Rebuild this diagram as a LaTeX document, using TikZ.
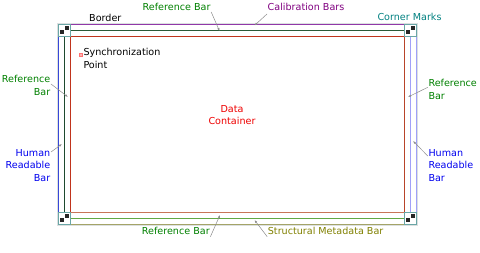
\documentclass[tikz,border=0pt]{standalone}
\usepackage{fontspec}
\setmainfont{DejaVu Sans}
\usetikzlibrary{arrows.meta}
\definecolor{tgreen}{HTML}{008000}
\definecolor{tblue}{HTML}{0000EE}
\definecolor{tpurple}{HTML}{800080}
\definecolor{tteal}{HTML}{008080}
\definecolor{tolive}{HTML}{808000}
\definecolor{tred}{HTML}{EE0000}
\definecolor{calline}{HTML}{9038A8}
\definecolor{topref}{HTML}{2A5A38}
\definecolor{leftblue}{HTML}{3848D8}
\definecolor{leftref}{HTML}{1E4A2E}
\definecolor{rightref}{HTML}{3A7684}
\definecolor{rightlav}{HTML}{A0A0F8}
\definecolor{botref}{HTML}{62A844}
\definecolor{botolive}{HTML}{A4A468}
\definecolor{redA}{HTML}{C0341C}
\definecolor{redB}{HTML}{B8442A}
\definecolor{redC}{HTML}{C87658}
\definecolor{cornerline}{HTML}{6AA6A6}
\definecolor{leader}{HTML}{8C8C8C}
\definecolor{bordergray}{HTML}{DCE0E0}
\tikzset{
  lbl/.style={inner sep=0pt, font=\fontsize{9.6}{12.7}\selectfont},
  barline/.style={line width=1pt},
  leaderline/.style={draw=leader, line width=0.5pt, -{Latex[length=3pt,width=2.2pt]}},
  cornerbox/.style={draw=cornerline, line width=1pt, fill=white},
  blackmark/.style={fill=black!85, draw=none}
}
\begin{document}
\begin{tikzpicture}[x=1pt,y=-1pt]
\useasboundingbox (0,0) rectangle (480,253);
\begin{scope}[shift={(0.5,0.5)}]
% outer border
\draw[bordergray, line width=1pt] (57,23) rectangle (417,225);
% top bars
\draw[barline, calline] (70,24) rectangle (404,30);
\draw[barline, topref] (70,30) rectangle (404,36);
% left bars
\draw[barline, leftblue] (58,36) rectangle (64,212);
\draw[barline, leftref] (64,36) rectangle (70,212);
% right bars
\draw[barline, rightref] (404,36) rectangle (410,212);
\draw[barline, rightlav] (410,36) rectangle (416,212);
% bottom bars
\draw[barline, botolive] (70,218) rectangle (404,224);
\draw[barline, botref] (70,212) rectangle (404,218);
% data container
\draw[barline, redA] (70,212) -- (70,36) -- (404,36);
\draw[barline, redB] (404,36) -- (404,212);
\draw[barline, redC] (70,212) -- (404,212);
% corner marks
\foreach \cx/\cy in {58/24, 404/24, 58/212, 404/212}{
  \draw[cornerbox] (\cx,\cy) rectangle ++(12,12);
  \fill[blackmark] (\cx+1.5,\cy+5.5) rectangle ++(4,4);
  \fill[blackmark] (\cx+6.5,\cy+1.5) rectangle ++(4,4);
}
% synchronization point marker
\draw[fill=red!30, draw=red!55, line width=0.5pt] (79,53) rectangle (81.5,55.5);
\end{scope}

% labels
\node[lbl, anchor=base west] (border) at (89,22) {Border};
\node[lbl, anchor=base west, text=tgreen] (trb) at (142.5,11) {Reference Bar};
\node[lbl, anchor=base west, text=tpurple] (cal) at (267.5,11) {Calibration Bars};
\node[lbl, anchor=base west, text=tteal] (cm) at (377.3,21) {Corner Marks};
\node[lbl, anchor=north west, align=left] (sync) at (83.3,48.3) {Synchronization\\Point};
\node[lbl, anchor=north, align=center, text=tred] (data) at (232,105) {Data\\Container};
\node[lbl, anchor=north east, align=right, text=tgreen] (lrb) at (50.5,75) {Reference\\Bar};
\node[lbl, anchor=north east, align=right, text=tblue] (lhr) at (50.5,149) {Human\\Readable\\Bar};
\node[lbl, anchor=north west, align=left, text=tgreen] (rrb) at (428.3,79.3) {Reference\\Bar};
\node[lbl, anchor=north west, align=left, text=tblue] (rhr) at (428.3,149) {Human\\Readable\\Bar};
\node[lbl, anchor=base west, text=tgreen] (brb) at (141.7,234.3) {Reference Bar};
\node[lbl, anchor=base west, text=tolive] (smb) at (267.7,234.3) {Structural Metadata Bar};

% leader tips
\coordinate (ttrb) at (219.5,31);
\coordinate (tcal) at (254.5,25.5);
\coordinate (tlrb) at (68,97);
\coordinate (tlhr) at (62,144);
\coordinate (trrb) at (408,97);
\coordinate (trhr) at (413,141);
\coordinate (tbrb) at (220,215);
\coordinate (tsmb) at (254.5,220);

\draw[leaderline] ([xshift=0.5pt,yshift=-1pt]trb.base east) -- (ttrb);
\draw[leaderline] ([xshift=-0.5pt,yshift=-3pt]cal.base west) -- (tcal);
\draw[leaderline] ([xshift=0.5pt,yshift=-9pt]lrb.north east) -- (tlrb);
\draw[leaderline] ([xshift=0.5pt,yshift=-3pt]lhr.north east) -- (tlhr);
\draw[leaderline] ([xshift=-0.5pt,yshift=-8pt]rrb.north west) -- (trrb);
\draw[leaderline] ([xshift=-0.5pt,yshift=-7pt]rhr.north west) -- (trhr);
\draw[leaderline] ([xshift=0.5pt,yshift=-2.4pt]brb.base east) -- (tbrb);
\draw[leaderline] ([xshift=-0.5pt,yshift=-2.4pt]smb.base west) -- (tsmb);
\end{tikzpicture}
\end{document}
